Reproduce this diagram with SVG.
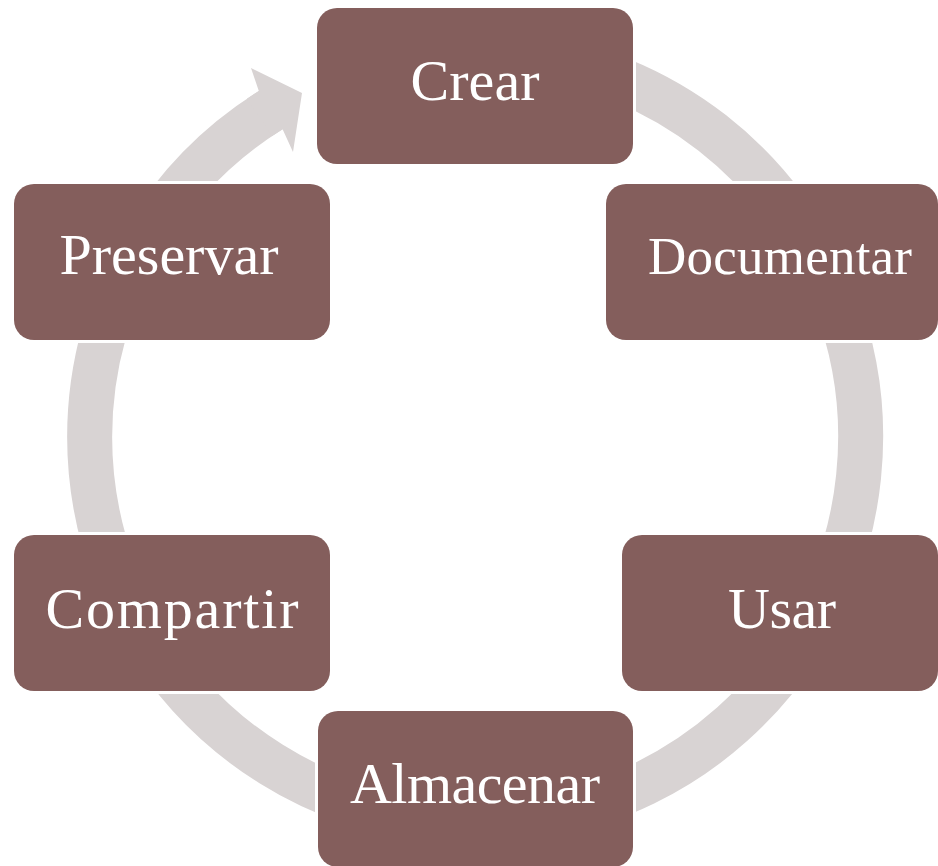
<svg xmlns="http://www.w3.org/2000/svg" width="938" height="866" viewBox="0 0 938 866">
  <style>
    .ring { fill: none; stroke: #D8D3D3; stroke-width: 45; stroke-linecap: butt; }
    .head { fill: #D8D3D3; stroke: none; }
    .box { fill: #845E5C; stroke: #FFFFFF; stroke-width: 6; paint-order: stroke; }
    .lbl { fill: #FFFFFF; font-family: "Liberation Serif", "DejaVu Serif", serif; font-size: 58px; text-anchor: middle; }
  </style>
  <rect x="0" y="0" width="938" height="866" fill="#FFFFFF"/>
  <g id="connectors">
    <path class="ring" d="M 343.2 74.7 A 385.5 385.5 0 1 1 270.72 110.08"/>
    <polygon class="head" points="246.9,98.8 258.8,91 251,68 302,93 293,152 282.6,129.2 272.0,136.1"/>
  </g>
  <g id="node-crear">
    <rect class="box" x="317" y="8" width="316" height="156" rx="20" ry="20"/>
    <text class="lbl" x="475" y="100" textLength="129" lengthAdjust="spacing">Crear</text>
  </g>
  <g id="node-documentar">
    <rect class="box" x="606" y="184" width="332" height="156" rx="20" ry="20"/>
    <text class="lbl" x="780" y="274" style="font-size:53px" textLength="264" lengthAdjust="spacing">Documentar</text>
  </g>
  <g id="node-usar">
    <rect class="box" x="622" y="535" width="316" height="156" rx="20" ry="20"/>
    <text class="lbl" x="782" y="628" textLength="108" lengthAdjust="spacing">Usar</text>
  </g>
  <g id="node-almacenar">
    <rect class="box" x="318" y="711" width="315" height="156" rx="20" ry="20"/>
    <text class="lbl" x="475" y="803" textLength="250" lengthAdjust="spacing">Almacenar</text>
  </g>
  <g id="node-compartir">
    <rect class="box" x="14" y="535" width="316" height="156" rx="20" ry="20"/>
    <text class="lbl" x="172" y="628" textLength="253" lengthAdjust="spacing">Compartir</text>
  </g>
  <g id="node-preservar">
    <rect class="box" x="14" y="184" width="316" height="156" rx="20" ry="20"/>
    <text class="lbl" x="169" y="274" textLength="219" lengthAdjust="spacing">Preservar</text>
  </g>
</svg>
